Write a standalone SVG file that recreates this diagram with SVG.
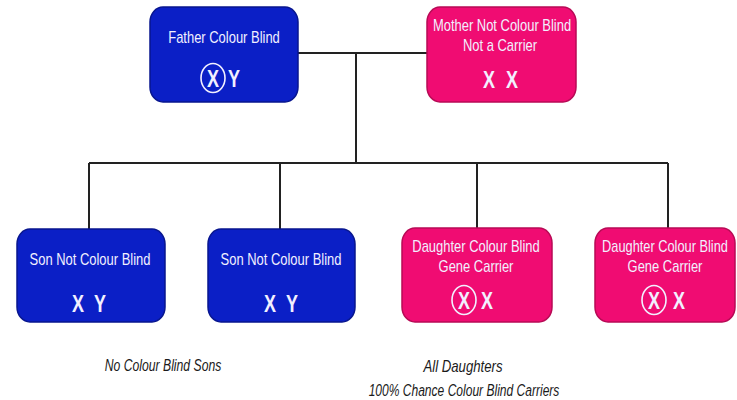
<svg xmlns="http://www.w3.org/2000/svg" width="737" height="400" viewBox="0 0 737 400">
  <style>
    .blue { fill: #0b1fc6; stroke: #08168f; stroke-width: 1.5; }
    .pink { fill: #f00c72; stroke: #b80a55; stroke-width: 1.5; }
    .lbl { font-family: "Liberation Sans", Arial, sans-serif; font-size: 16px; fill: #f2f0ff; text-anchor: middle; }
    .chr { font-family: "Liberation Sans", Arial, sans-serif; font-size: 24px; font-weight: bold; fill: #f2f0ff; text-anchor: middle; }
    .ring { fill: none; stroke: #f2f0ff; stroke-width: 1.6; }
    .note { font-family: "Liberation Sans", Arial, sans-serif; font-size: 16.5px; font-style: italic; fill: #1a1a1a; text-anchor: middle; }
    .conn { fill: none; stroke: #222; stroke-width: 2; }
  </style>
  <rect width="737" height="400" fill="#ffffff"/>

  <g id="connectors">
    <path class="conn" d="M297 53 H428"/>
    <path class="conn" d="M356 53 V163"/>
    <path class="conn" d="M89 163 H668"/>
    <path class="conn" d="M89 163 V229"/>
    <path class="conn" d="M280 163 V229"/>
    <path class="conn" d="M477 163 V229"/>
    <path class="conn" d="M668 163 V229"/>
  </g>

  <g id="father">
    <rect class="blue" x="150" y="7" width="148" height="95" rx="13" ry="15"/>
    <text class="lbl" transform="matrix(0.81 0 0 1 224 43)">Father Colour Blind</text>
    <ellipse class="ring" cx="213" cy="78" rx="12" ry="14.5"/>
    <text class="chr" transform="matrix(0.75 0 0 1 213 87)">X</text>
    <text class="chr" transform="matrix(0.75 0 0 1 234 87)">Y</text>
  </g>

  <g id="mother">
    <rect class="pink" x="427" y="7" width="149" height="95" rx="13" ry="15"/>
    <text class="lbl" transform="matrix(0.81 0 0 1 502 31)">Mother Not Colour Blind</text>
    <text class="lbl" transform="matrix(0.81 0 0 1 500 51)">Not a Carrier</text>
    <text class="chr" transform="matrix(0.75 0 0 1 489 88)">X</text>
    <text class="chr" transform="matrix(0.75 0 0 1 512 88)">X</text>
  </g>

  <g id="son1">
    <rect class="blue" x="17" y="229" width="148" height="93" rx="13" ry="15"/>
    <text class="lbl" transform="matrix(0.81 0 0 1 90 265)">Son Not Colour Blind</text>
    <text class="chr" transform="matrix(0.75 0 0 1 78 312)">X</text>
    <text class="chr" transform="matrix(0.75 0 0 1 100 312)">Y</text>
  </g>

  <g id="son2">
    <rect class="blue" x="208" y="229" width="147" height="93" rx="13" ry="15"/>
    <text class="lbl" transform="matrix(0.81 0 0 1 281 265)">Son Not Colour Blind</text>
    <text class="chr" transform="matrix(0.75 0 0 1 270 312)">X</text>
    <text class="chr" transform="matrix(0.75 0 0 1 292 312)">Y</text>
  </g>

  <g id="daughter1">
    <rect class="pink" x="402" y="228" width="150" height="94" rx="13" ry="15"/>
    <text class="lbl" transform="matrix(0.81 0 0 1 476 252)">Daughter Colour Blind</text>
    <text class="lbl" transform="matrix(0.81 0 0 1 476 272)">Gene Carrier</text>
    <ellipse class="ring" cx="464" cy="300" rx="12" ry="14.5"/>
    <text class="chr" transform="matrix(0.75 0 0 1 464 309)">X</text>
    <text class="chr" transform="matrix(0.75 0 0 1 487 309)">X</text>
  </g>

  <g id="daughter2">
    <rect class="pink" x="595" y="228" width="140" height="94" rx="13" ry="15"/>
    <text class="lbl" transform="matrix(0.8 0 0 1 665 252)">Daughter Colour Blind</text>
    <text class="lbl" transform="matrix(0.81 0 0 1 665 272)">Gene Carrier</text>
    <ellipse class="ring" cx="654" cy="300" rx="12" ry="14.5"/>
    <text class="chr" transform="matrix(0.75 0 0 1 654 309)">X</text>
    <text class="chr" transform="matrix(0.75 0 0 1 679 309)">X</text>
  </g>

  <g id="notes">
    <text class="note" transform="matrix(0.74 0 0 1 163 371)">No Colour Blind Sons</text>
    <text class="note" transform="matrix(0.8 0 0 1 463 372)">All Daughters</text>
    <text class="note" transform="matrix(0.73 0 0 1 464 396)">100% Chance Colour Blind Carriers</text>
  </g>
</svg>
